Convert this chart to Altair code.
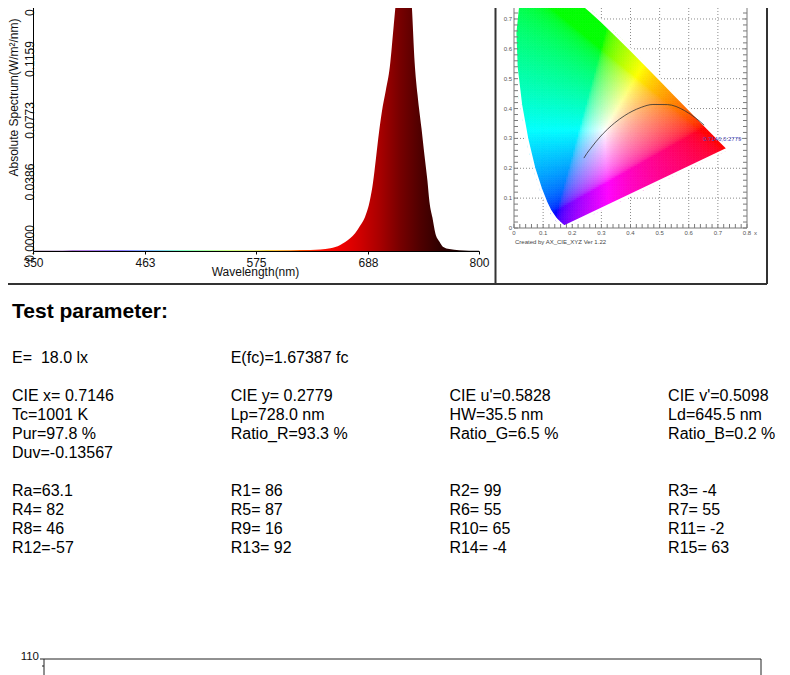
import altair as alt
import numpy as np
import pandas as pd

FONT = "Liberation Sans"
W, H = 774, 667

# ---------------- spectrum ----------------
wavelength = [350, 380, 400, 450, 500, 550, 600, 620, 640, 650, 655, 660, 665, 670, 675,
              680, 685, 690, 693, 696, 699, 702, 706, 710, 714, 717, 720, 723, 726, 729,
              732, 735, 738, 742, 745, 748, 750, 753, 756, 760, 764, 770, 780, 790, 800]
irradiance = [0.0002, 0.0002, 0.0003, 0.0003, 0.0003, 0.0003, 0.0004, 0.0006, 0.0010, 0.0017,
              0.0025, 0.0038, 0.0056, 0.0080, 0.0112, 0.0158, 0.0214, 0.0320, 0.0427, 0.0580,
              0.0740, 0.0875, 0.1010, 0.1156, 0.1420, 0.1620, 0.1800, 0.1900, 0.1880, 0.1750,
              0.1560, 0.1190, 0.0980, 0.0770, 0.0600, 0.0440, 0.0310, 0.0210, 0.0110, 0.0060,
              0.0025, 0.0012, 0.0005, 0.0002, 0.0001]
spec_x_ticks = [350, 463, 575, 688, 800]
spec_y_ticks = [0.0, 0.0386, 0.0773, 0.1159, 0.1545]

# ---------------- CIE 1931 chromaticity ----------------
locus_x = [0.1741, 0.1733, 0.1714, 0.1644, 0.1566, 0.1440, 0.1241, 0.1096, 0.0913, 0.0687,
           0.0454, 0.0235, 0.0082, 0.0039, 0.0139, 0.0389, 0.0743, 0.1142, 0.1547, 0.1929,
           0.2296, 0.2658, 0.3016, 0.3373, 0.3731, 0.4087, 0.4441, 0.4788, 0.5125, 0.5448,
           0.5752, 0.6029, 0.6270, 0.6658, 0.6915, 0.7079, 0.7190, 0.7260, 0.7300, 0.7334, 0.7347]
locus_y = [0.0050, 0.0048, 0.0051, 0.0109, 0.0177, 0.0297, 0.0578, 0.0868, 0.1327, 0.2007,
           0.2950, 0.4127, 0.5384, 0.6548, 0.7502, 0.8120, 0.8338, 0.8262, 0.8059, 0.7816,
           0.7543, 0.7243, 0.6923, 0.6589, 0.6245, 0.5896, 0.5547, 0.5202, 0.4866, 0.4544,
           0.4242, 0.3965, 0.3725, 0.3340, 0.3083, 0.2920, 0.2809, 0.2740, 0.2700, 0.2666, 0.2653]
planck_x = [0.6528, 0.6251, 0.5857, 0.5267, 0.4770, 0.4369, 0.4053, 0.3805, 0.3451, 0.3221,
            0.3064, 0.2952, 0.2807, 0.2637, 0.2501, 0.2399]
planck_y = [0.3444, 0.3674, 0.3931, 0.4133, 0.4137, 0.4041, 0.3907, 0.3768, 0.3516, 0.3318,
            0.3166, 0.3048, 0.2883, 0.2671, 0.2497, 0.2341]
point_xy = (0.7146, 0.2779)
cie_x_labels = ["0", "0.1", "0.2", "0.3", "0.4", "0.5", "0.6", "0.7", "0.8"]
cie_y_labels = ["0", "0.1", "0.2", "0.3", "0.4", "0.5", "0.6", "0.7"]

# ---------------- test parameters ----------------
header_block = [["E=\u00a0 18.0 lx", "E(fc)=1.67387 fc"]]
color_block = [["CIE x= 0.7146", "CIE y= 0.2779", "CIE u'=0.5828", "CIE v'=0.5098"],
               ["Tc=1001 K", "Lp=728.0 nm", "HW=35.5 nm", "Ld=645.5 nm"],
               ["Pur=97.8 %", "Ratio_R=93.3 %", "Ratio_G=6.5 %", "Ratio_B=0.2 %"],
               ["Duv=-0.13567"]]
cri_names = ["Ra", "R1", "R2", "R3", "R4", "R5", "R6", "R7", "R8", "R9", "R10", "R11",
             "R12", "R13", "R14", "R15"]
cri_values = [63.1, 86, 99, -4, 82, 87, 55, 55, 46, 16, 65, -2, -57, 92, -4, 63]
bottom_top_label = "110"

# ---------------- scales ----------------
pxs = alt.Scale(domain=[0, W], range=[0, W], nice=False, zero=False)
pys = alt.Scale(domain=[0, H], range=[0, H], nice=False, zero=False)
cx = alt.Scale(domain=[0, 0.8], range=[506, 739], nice=False, zero=False)
cy = alt.Scale(domain=[0, 0.8], range=[220, 220 - 0.8 * 298.6], nice=False, zero=False)
by = alt.Scale(domain=[0, 110], range=[805, 651], nice=False, zero=False)
one = pd.DataFrame({"a": [0]})


def PX(v):
    return alt.X(datum=v, scale=pxs, axis=None)


def PY(v):
    return alt.Y(datum=v, scale=pys, axis=None)


layers = []

# ---------------- spectrum ----------------
spec_df = pd.DataFrame({"wl": wavelength, "v": irradiance})
stops = [(0.0, "#200030"), (0.111, "#6a00c8"), (0.2, "#2000ff"), (0.267, "#0080ff"),
         (0.333, "#00ff80"), (0.444, "#a0ff00"), (0.544, "#ffb000"), (0.644, "#ff1000"),
         (0.689, "#f00000"), (0.733, "#d00000"), (0.778, "#a80000"), (0.822, "#780000"),
         (0.867, "#500000"), (0.911, "#300000"), (1.0, "#100000")]
grad = alt.LinearGradient(gradient="linear",
                          stops=[alt.GradientStop(offset=o, color=c) for o, c in stops],
                          x1=0, x2=1, y1=0, y2=0)

spectrum = alt.Chart(spec_df).mark_area(color=grad, interpolate="monotone").encode(
    x=alt.X("wl:Q",
            scale=alt.Scale(domain=[350, 800], range=[25, 471], nice=False, zero=False),
            axis=alt.Axis(values=spec_x_ticks, offset=-(H - 243), grid=False,
                          domainColor="#000", tickColor="#000", tickSize=3,
                          labelFont=FONT, labelFontSize=12, labelColor="#111",
                          labelPadding=3, labelFlush=False, labelOverlap=False,
                          title="Wavelength(nm)", titleFont=FONT, titleFontSize=12,
                          titleFontWeight="normal", titleColor="#111",
                          titleX=247, titleY=24.5, titleBaseline="alphabetic",
                          titleAlign="center")),
    y=alt.Y("v:Q",
            scale=alt.Scale(domain=[0, 0.2], range=[243, 243 - 0.2 * 1592], nice=False,
                            zero=False),
            axis=alt.Axis(values=spec_y_ticks, offset=-25, grid=False, format=".4f",
                          domainColor="#000", tickSize=0, labelAngle=-90,
                          labelAlign="center", labelBaseline="alphabetic",
                          labelOffset=-8, labelPadding=0, labelFont=FONT,
                          labelFontSize=12, labelColor="#111", labelFlush=False,
                          labelOverlap=False,
                          title="Absolute Spectrum(W/m\u00b2/nm)", titleFont=FONT,
                          titleFontSize=12, titleFontWeight="normal", titleColor="#111",
                          titleAngle=270, titleX=-15.5, titleY=89,
                          titleBaseline="alphabetic", titleAlign="center")),
)
layers.append(spectrum)

# ---------------- CIE colour cells ----------------
lx = np.array(locus_x)
ly = np.array(locus_y)
step = 0.006
gx, gy = np.meshgrid(np.arange(0, 0.75, step), np.arange(0, 0.75, step))
px = gx.ravel() + step / 2
py = gy.ravel() + step / 2
inside = np.zeros(px.shape, dtype=bool)
n = len(lx)
for i in range(n):
    j = (i - 1) % n
    xi, yi, xj, yj = lx[i], ly[i], lx[j], ly[j]
    cond = ((yi > py) != (yj > py)) & (px < (xj - xi) * (py - yi) / (yj - yi + 1e-12) + xi)
    inside ^= cond
px, py = px[inside], py[inside]
Xc = px / py
Zc = (1 - px - py) / py
r = 3.2406 * Xc - 1.5372 - 0.4986 * Zc
g = -0.9689 * Xc + 1.8758 + 0.0415 * Zc
b = 0.0557 * Xc - 0.2040 + 1.0570 * Zc
rgb = np.clip(np.stack([r, g, b]), 0, None)
rgb = rgb / rgb.max(axis=0)
rgb = np.where(rgb <= 0.0031308, 12.92 * rgb, 1.055 * rgb ** (1 / 2.4) - 0.055)
rgb = np.clip(np.round(rgb * 255), 0, 255).astype(int)
hexes = ["#%02x%02x%02x" % tuple(c) for c in rgb.T]
cells_df = pd.DataFrame({"x": np.round(px - step / 2, 4), "y": np.round(py - step / 2, 4),
                         "x2": np.round(px + step / 2, 4), "y2": np.round(py + step / 2, 4),
                         "c": hexes})

grid_vals = [0.1, 0.2, 0.3, 0.4, 0.5, 0.6, 0.7]
grid_df = pd.DataFrame({"g": grid_vals})
layers.append(alt.Chart(grid_df).mark_rule(color="#8a8a8a", strokeDash=[1, 2]).encode(
    x=alt.X("g:Q", scale=cx, axis=None),
    y=alt.Y(datum=0, scale=cy, axis=None), y2=alt.Y2(datum=0.8)))
layers.append(alt.Chart(grid_df).mark_rule(color="#8a8a8a", strokeDash=[1, 2]).encode(
    y=alt.Y("g:Q", scale=cy, axis=None),
    x=alt.X(datum=0, scale=cx, axis=None), x2=alt.X2(datum=0.8)))

layers.append(alt.Chart(cells_df).mark_rect(strokeWidth=0.6).encode(
    x=alt.X("x:Q", scale=cx, axis=None), x2="x2:Q",
    y=alt.Y("y:Q", scale=cy, axis=None), y2="y2:Q",
    color=alt.Color("c:N", scale=None), stroke=alt.Stroke("c:N", scale=None)))

# smooth the stair-stepped rim of the colour cells
edge_df = pd.DataFrame({"x": locus_x + [locus_x[0]], "y": locus_y + [locus_y[0]],
                        "i": list(range(len(locus_x) + 1))})
layers.append(alt.Chart(edge_df).mark_line(color="#ffffff", strokeWidth=2.6,
                                           strokeJoin="round").encode(
    x=alt.X("x:Q", scale=cx, axis=None), y=alt.Y("y:Q", scale=cy, axis=None),
    order="i:Q"))

planck_df = pd.DataFrame({"x": planck_x, "y": planck_y, "i": list(range(len(planck_x)))})
layers.append(alt.Chart(planck_df).mark_line(color="#303030", strokeWidth=0.8,
                                             interpolate="monotone").encode(
    x=alt.X("x:Q", scale=cx, axis=None), y=alt.Y("y:Q", scale=cy, axis=None),
    order="i:Q"))

axis_col = "#7a7a7a"
tick_vals = [round(0.02 * k, 2) for k in range(41)]
tick_df = pd.DataFrame({"t": tick_vals})
tick_df_y = pd.DataFrame({"t": [t for t in tick_vals if t <= 0.74]})
layers.append(alt.Chart(tick_df).mark_rule(color=axis_col, y2Offset=-4).encode(
    x=alt.X("t:Q", scale=cx, axis=None),
    y=alt.Y(datum=0, scale=cy, axis=None), y2=alt.Y2(datum=0)))
layers.append(alt.Chart(tick_df_y).mark_rule(color=axis_col, x2Offset=4).encode(
    y=alt.Y("t:Q", scale=cy, axis=None),
    x=alt.X(datum=0, scale=cx, axis=None), x2=alt.X2(datum=0)))
layers.append(alt.Chart(tick_df_y).mark_rule(color=axis_col, x2Offset=-4).encode(
    y=alt.Y("t:Q", scale=cy, axis=None),
    x=alt.X(datum=0.8, scale=cx, axis=None), x2=alt.X2(datum=0.8)))
layers.append(alt.Chart(one).mark_rule(color=axis_col).encode(
    x=alt.X(datum=0, scale=cx, axis=None), x2=alt.X2(datum=0.8),
    y=alt.Y(datum=0, scale=cy, axis=None)))
layers.append(alt.Chart(one).mark_rule(color=axis_col).encode(
    x=alt.X(datum=0, scale=cx, axis=None),
    y=alt.Y(datum=0, scale=cy, axis=None), y2=alt.Y2(datum=0.8)))
layers.append(alt.Chart(one).mark_rule(color=axis_col).encode(
    x=alt.X(datum=0.8, scale=cx, axis=None),
    y=alt.Y(datum=0, scale=cy, axis=None), y2=alt.Y2(datum=0.8)))

xl_df = pd.DataFrame({"v": [float(s) for s in cie_x_labels], "t": cie_x_labels})
yl_df = pd.DataFrame({"v": [float(s) for s in cie_y_labels], "t": cie_y_labels})
layers.append(alt.Chart(xl_df).mark_text(font=FONT, fontSize=6, color="#555",
                                         baseline="middle", align="center").encode(
    x=alt.X("v:Q", scale=cx, axis=None), y=PY(225), text="t:N"))
layers.append(alt.Chart(yl_df).mark_text(font=FONT, fontSize=6, color="#555",
                                         baseline="middle", align="right").encode(
    y=alt.Y("v:Q", scale=cy, axis=None), x=PX(504), text="t:N"))
layers.append(alt.Chart(pd.DataFrame({"t": ["x"]})).mark_text(
    font=FONT, fontSize=6, color="#555", baseline="middle", align="left").encode(
    x=PX(746), y=PY(225), text="t:N"))
layers.append(alt.Chart(pd.DataFrame({"t": ["Created by AX_CIE_XYZ Ver 1.22"]})).mark_text(
    font=FONT, fontSize=6, color="#444", baseline="middle", align="left").encode(
    x=PX(507), y=PY(234), text="t:N"))
pt_df = pd.DataFrame({"x": [point_xy[0]], "y": [point_xy[1]],
                      "t": ["%.4f,%.4f" % point_xy]})
layers.append(alt.Chart(pt_df).mark_text(font=FONT, fontSize=6, color="#4a4ac0", dy=-6,
                                         baseline="middle", align="center").encode(
    x=alt.X("x:Q", scale=cx, axis=None), y=alt.Y("y:Q", scale=cy, axis=None), text="t:N"))

# ---------------- test parameter text ----------------
cri_strings = []
for nm, v in zip(cri_names, cri_values):
    if not float(v).is_integer():
        cri_strings.append("%s=%s" % (nm, v))
    else:
        cri_strings.append("%s=%3d" % (nm, int(v)))
cri_block = [cri_strings[k:k + 4] for k in range(0, len(cri_strings), 4)]
rows = []
line = 0
for block in [header_block, color_block, cri_block]:
    for row in block:
        for ci, s in enumerate(row):
            rows.append({"col": ci, "line": line, "t": s})
        line += 1
    line += 1
text_df = pd.DataFrame(rows)
layers.append(alt.Chart(text_df).mark_text(font=FONT, fontSize=16, color="#000",
                                           align="left", baseline="alphabetic").encode(
    x=alt.X("col:Q", scale=alt.Scale(domain=[0, 3], range=[4, 660.1], nice=False,
                                     zero=False), axis=None),
    y=alt.Y("line:Q", scale=alt.Scale(domain=[0, 10], range=[355, 355 + 10 * 18.95],
                                      nice=False, zero=False), axis=None),
    text="t:N"))
layers.append(alt.Chart(pd.DataFrame({"t": ["Test parameter:"]})).mark_text(
    font=FONT, fontSize=21, fontWeight="bold", color="#000", align="left",
    baseline="alphabetic").encode(x=PX(4), y=PY(309.5), text="t:N"))

# ---------------- bottom chart (only its top edge is visible) ----------------
bcol = "#222"
layers.append(alt.Chart(one).mark_rule(color=bcol).encode(
    x=PX(36), x2=alt.X2(datum=753), y=alt.Y(datum=110, scale=by, axis=None)))
layers.append(alt.Chart(one).mark_rule(color=bcol).encode(
    x=PX(36), y=alt.Y(datum=110, scale=by, axis=None), y2=alt.Y2(datum=0)))
layers.append(alt.Chart(one).mark_rule(color=bcol).encode(
    x=PX(753), y=alt.Y(datum=110, scale=by, axis=None), y2=alt.Y2(datum=0)))
layers.append(alt.Chart(pd.DataFrame({"v": [110]})).mark_rule(color=bcol).encode(
    y=alt.Y("v:Q", scale=by, axis=None), x=PX(32), x2=alt.X2(datum=36)))
layers.append(alt.Chart(pd.DataFrame({"v": [105]})).mark_rule(color=bcol).encode(
    y=alt.Y("v:Q", scale=by, axis=None), x=PX(34), x2=alt.X2(datum=36)))
layers.append(alt.Chart(pd.DataFrame({"v": [110], "t": [bottom_top_label]})).mark_text(
    font=FONT, fontSize=11.5, color="#111", align="right", baseline="middle", dy=-2).encode(
    y=alt.Y("v:Q", scale=by, axis=None), x=PX(31), text="t:N"))

# ---------------- panel borders ----------------
border_col = "#333"
layers.append(alt.Chart(one).mark_rule(color=border_col, strokeWidth=2).encode(
    x=PX(487.5), y=PY(-10), y2=alt.Y2(datum=276)))
layers.append(alt.Chart(one).mark_rule(color=border_col, strokeWidth=2).encode(
    x=PX(-10), x2=alt.X2(datum=759), y=PY(276)))
layers.append(alt.Chart(one).mark_rule(color=border_col, strokeWidth=2).encode(
    x=PX(759), y=PY(-10), y2=alt.Y2(datum=276)))

chart = alt.layer(*layers).resolve_scale(x="independent", y="independent").properties(
    width=W, height=H, padding=0, autosize=alt.AutoSizeParams(type="none")
).configure_view(stroke=None)

chart.save("out.html", embed_options={"renderer": "svg", "actions": False})
